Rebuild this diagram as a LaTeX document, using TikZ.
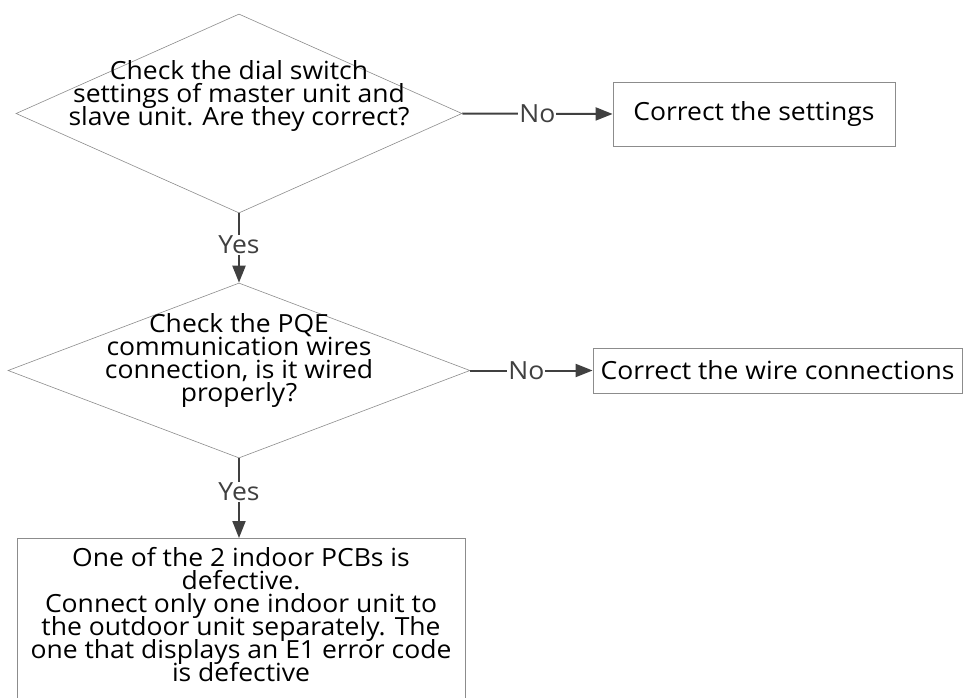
\documentclass[tikz,border=0pt]{standalone}
\usepackage{fontspec}
\setmainfont{Open Sans}[FakeStretch=1.06]
\usetikzlibrary{shapes.geometric, arrows.meta, positioning}

\definecolor{lineg}{HTML}{404040}
\definecolor{boxg}{HTML}{8C8C8C}
\newcommand{\flowfont}{\fontsize{25}{23}\selectfont\lineskiplimit=-30pt\relax}

\begin{document}
\begin{tikzpicture}[
  x=1pt, y=-1pt,
  font=\flowfont,
  >={Triangle[length=17pt,width=13pt]},
  decision/.style={diamond, draw=boxg, line width=0.6pt, inner sep=0pt},
  dtext/.style={align=center, inner sep=0pt},
  actbox/.style={rectangle, draw=boxg, line width=0.8pt, align=center, inner sep=0pt},
  lbl/.style={fill=white, inner sep=1pt},
  arr/.style={->, line width=2pt, lineg}
]
\useasboundingbox (0,0) rectangle (964,698);
\clip (0,0) rectangle (964,698);

% decisions
\node[decision, minimum width=446pt, minimum height=199pt] (dial) at (239,113.5) {};
\node[dtext] (dialtxt) at (239,96) {Check the dial switch\\settings of master unit and\\slave unit. Are they correct?};

\node[decision, minimum width=462pt, minimum height=175pt] (pqe) at (239,370.5) {};
\node[dtext] (pqetxt) at (239,361) {Check the PQE\\communication wires\\connection, is it wired\\properly?};

% actions
\node[actbox, minimum width=282pt, minimum height=64pt] (fixset) at (754,114) {Correct the settings};
\node[actbox, minimum width=369pt, minimum height=45pt] (fixwire) at (777.5,370.5) {Correct the wire connections};
\node[actbox, minimum width=448pt, inner ysep=9pt, anchor=north] (pcb) at (241,538)
  {\parbox[c][165pt][t]{446pt}{\centering\flowfont
   One of the 2 indoor PCBs is\\defective.\\Connect only one indoor unit to\\the outdoor unit separately. The\\one that displays an E1 error code\\is defective}};

% connectors
\draw[arr] (dial.east) -- node[lbl]{No} (fixset.west);
\draw[arr] (pqe.east) -- node[lbl, xshift=-5pt]{No} (fixwire.west);
\draw[arr] (dial.south) -- node[lbl, yshift=3pt]{Yes} (pqe.north);
\draw[arr] (pqe.south) -- node[lbl, yshift=6pt]{Yes} (pqe.south |- pcb.north);

\end{tikzpicture}
\end{document}
